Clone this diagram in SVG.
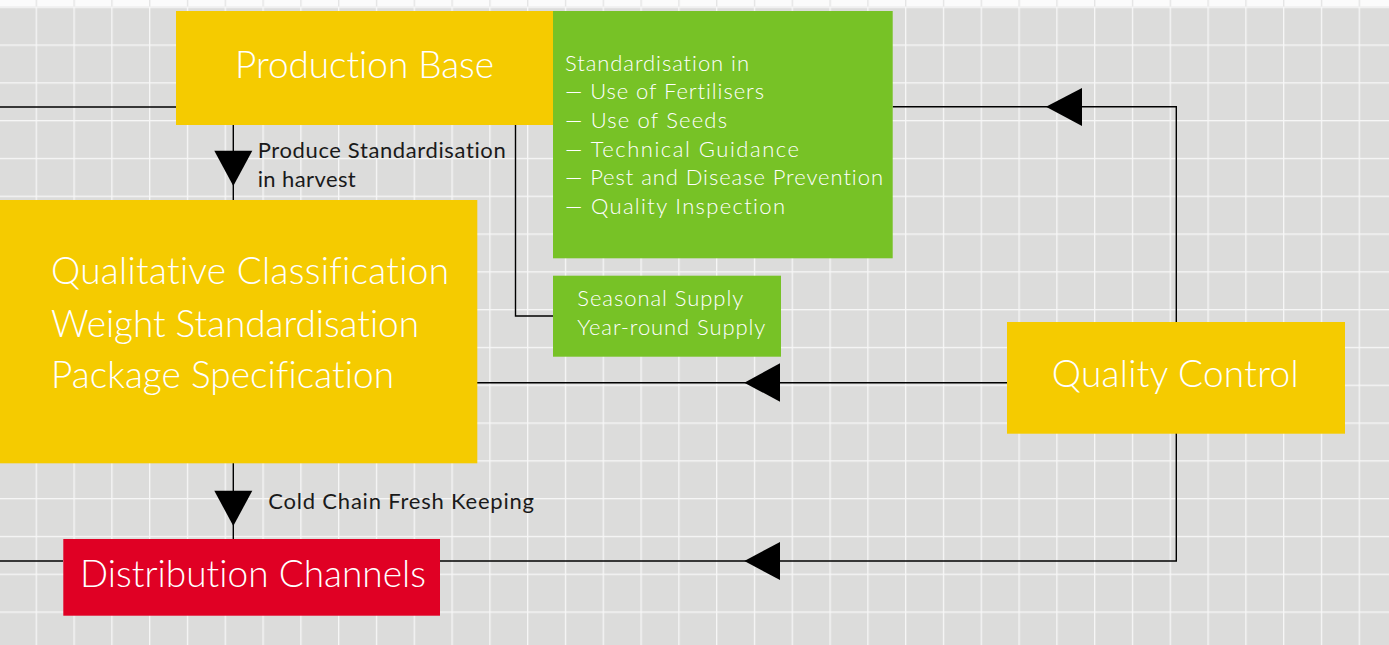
<svg xmlns="http://www.w3.org/2000/svg" width="1389" height="645" viewBox="0 0 1389 645">
<defs>
<pattern id="grid" patternUnits="userSpaceOnUse" x="35.65" y="6.65" width="37.8" height="37.8">
<rect width="37.8" height="37.8" fill="#dcdcdb"/>
<rect x="0" y="0" width="1.3" height="37.8" fill="#f7f7f7"/>
<rect x="0" y="0" width="37.8" height="1.3" fill="#f7f7f7"/>
</pattern>
<pattern id="gridtop" patternUnits="userSpaceOnUse" x="35.65" y="0" width="37.8" height="37.8">
<rect width="37.8" height="37.8" fill="#fbfbfb"/>
<rect x="0" y="0" width="1.3" height="37.8" fill="#e4e4e4"/>
</pattern>
</defs>
<style>
text{font-family:Lato,"Open Sans","Liberation Sans",sans-serif;font-variant-ligatures:none}
.big{font-size:37px;font-weight:300;fill:#ffffff}
.mid{font-size:22px;font-weight:300;fill:#ffffff}
.lbl{font-size:22px;fill:#1a1a1a}
.ln{stroke:#000;stroke-width:1.4;fill:none}
.ah{fill:#000}
.yel{fill:#f5cb00}
.grn{fill:#77c226}
.red{fill:#e00024}
</style>
<rect width="1389" height="645" fill="url(#grid)"/>
<rect width="1389" height="6.6" fill="url(#gridtop)"/>

<g id="connectors">
<line class="ln" x1="0" y1="107" x2="176" y2="107"/>
<line class="ln" x1="0" y1="561" x2="63" y2="561"/>
<line class="ln" x1="233.3" y1="125" x2="233.3" y2="200"/>
<polygon class="ah" points="214.3,150.7 252.3,150.7 233.3,186"/>
<line class="ln" x1="233.3" y1="463" x2="233.3" y2="539"/>
<polygon class="ah" points="214.3,490.7 252.3,490.7 233.3,526"/>
<polyline class="ln" points="515.5,125 515.5,316 553,316"/>
<polyline class="ln" points="1176.3,322 1176.3,106.7 892.7,106.7"/>
<polygon class="ah" points="1046,106.7 1082,88 1082,126"/>
<line class="ln" x1="1007" y1="382.7" x2="477" y2="382.7"/>
<polygon class="ah" points="744.3,382.7 780,363.3 780,401.7"/>
<polyline class="ln" points="1176.3,433 1176.3,561 440,561"/>
<polygon class="ah" points="744.3,561 780,542 780,580"/>
<text class="lbl" x="257.7" y="158.3" textLength="248">Produce Standardisation</text>
<text class="lbl" x="257.7" y="186.7" textLength="98">in harvest</text>
<text class="lbl" x="268.3" y="509.3" textLength="265.7">Cold Chain Fresh Keeping</text>
</g>

<g id="production-base">
<rect class="yel" x="176" y="11" width="377" height="114"/>
<text class="big" x="235" y="78.3" textLength="259">Production Base</text>
</g>

<g id="standardisation">
<rect class="grn" x="553" y="11" width="339.7" height="247.3"/>
<text class="mid" x="565" y="70.5" textLength="184">Standardisation in</text>
<text class="mid" x="565" y="99.2" textLength="199">— Use of Fertilisers</text>
<text class="mid" x="565" y="127.9" textLength="162">— Use of Seeds</text>
<text class="mid" x="565" y="156.6" textLength="234">— Technical Guidance</text>
<text class="mid" x="565" y="185.3" textLength="318">— Pest and Disease Prevention</text>
<text class="mid" x="565" y="214" textLength="220">— Quality Inspection</text>
</g>

<g id="supply">
<rect class="grn" x="553" y="275.7" width="228" height="81"/>
<text class="mid" x="577.3" y="306" textLength="166">Seasonal Supply</text>
<text class="mid" x="577.3" y="335" textLength="188">Year-round Supply</text>
</g>

<g id="classification">
<rect class="yel" x="0" y="200" width="477.3" height="263.3"/>
<text class="big" x="51" y="284.3" textLength="398">Qualitative Classification</text>
<text class="big" x="51" y="336.7" textLength="368">Weight Standardisation</text>
<text class="big" x="51" y="388.3" textLength="343">Package Specification</text>
</g>

<g id="quality-control">
<rect class="yel" x="1007" y="322" width="338" height="111.7"/>
<text class="big" x="1051.7" y="387.3" textLength="247">Quality Control</text>
</g>

<g id="distribution">
<rect class="red" x="63.3" y="539" width="376.7" height="76.7"/>
<text class="big" x="80" y="586.7" textLength="346">Distribution Channels</text>
</g>
</svg>
